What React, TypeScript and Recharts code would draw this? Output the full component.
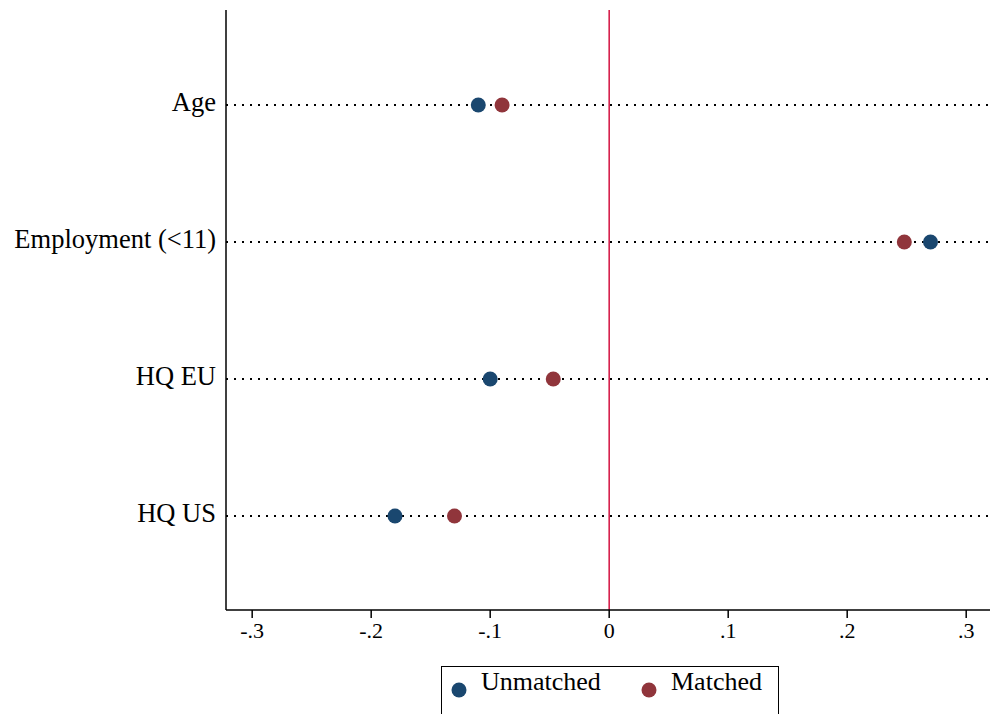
import React from "react"
import { ScatterChart, Scatter, XAxis, YAxis, ReferenceLine, Legend } from "recharts"

const categories = ["Age", "Employment (<11)", "HQ EU", "HQ US"]
const unmatchedValues = [-0.11, 0.27, -0.1, -0.18]
const matchedValues = [-0.09, 0.248, -0.047, -0.13]
const xTicks = [-0.3, -0.2, -0.1, 0, 0.1, 0.2, 0.3]

const BLUE = "#1a476f"
const MAROON = "#90353b"
const FONT = "'Liberation Serif', 'Times New Roman', serif"

// categories go top to bottom, so the first one gets the highest y
const yPos = (i: number) => categories.length - i
const yTicks = categories.map((_, i) => yPos(i))

const unmatched = categories.map((c, i) => ({ name: c, x: unmatchedValues[i], y: yPos(i) }))
const matched = categories.map((c, i) => ({ name: c, x: matchedValues[i], y: yPos(i) }))

const fmtX = (v: number) => {
    if (v === 0) return "0"
    const s = Math.abs(v).toFixed(1).replace(/^0/, "")
    return v < 0 ? "-" + s : s
}

const fmtY = (v: number) => categories[categories.length - v] ?? ""

const dot = (color: string) => (props: any) => (
    <circle cx={props.cx} cy={props.cy} r={7.5} fill={color} />
)

const LegendBox = () => (
    <div
        style={{
            width: 338,
            height: 60,
            boxSizing: "border-box",
            border: "1.5px solid #000",
            background: "#fff",
            fontFamily: FONT,
            fontSize: 26,
            position: "relative",
        }}
    >
        <svg width={20} height={20} style={{ position: "absolute", left: 7, top: 13 }}>
            <circle cx={10} cy={10} r={7.5} fill={BLUE} />
        </svg>
        <span style={{ position: "absolute", left: 39, top: 0, lineHeight: "30px" }}>Unmatched</span>
        <svg width={20} height={20} style={{ position: "absolute", left: 197, top: 13 }}>
            <circle cx={10} cy={10} r={7.5} fill={MAROON} />
        </svg>
        <span style={{ position: "absolute", left: 229, top: 0, lineHeight: "30px" }}>Matched</span>
    </div>
)

export default function App() {
    return (
        <div style={{ position: "absolute", left: 0, top: 0, width: 990, height: 714, overflow: "hidden", background: "#fff" }}>
            <ScatterChart width={990} height={714} margin={{ top: 10, right: 0, left: 0, bottom: 0 }}>
                <XAxis
                    type="number"
                    dataKey="x"
                    domain={[-0.322, 0.32]}
                    ticks={xTicks}
                    tickFormatter={fmtX}
                    allowDataOverflow
                    height={56}
                    tickSize={8}
                    tickMargin={4}
                    stroke="#000"
                    strokeWidth={1.5}
                    tick={{ fill: "#000", fontSize: 22, fontFamily: FONT }}
                />
                <YAxis
                    type="number"
                    dataKey="y"
                    domain={[0.314, 4.693]}
                    ticks={yTicks}
                    tickFormatter={fmtY}
                    allowDataOverflow
                    width={226}
                    tickLine={false}
                    tickSize={0}
                    tickMargin={10}
                    stroke="#000"
                    strokeWidth={1.5}
                    tick={{ fill: "#000", fontSize: 26.5, fontFamily: FONT, dy: -3 }}
                />
                {yTicks.map((t) => (
                    <ReferenceLine key={t} y={t} stroke="#000" strokeWidth={2} strokeDasharray="2 6" />
                ))}
                <ReferenceLine x={0} stroke="#d6204c" strokeWidth={1.6} />
                <Legend
                    verticalAlign="bottom"
                    height={48}
                    content={<LegendBox />}
                    wrapperStyle={{ left: 441, top: 666, width: 338, height: 48 }}
                />
                <Scatter name="Unmatched" data={unmatched} shape={dot(BLUE)} isAnimationActive={false} />
                <Scatter name="Matched" data={matched} shape={dot(MAROON)} isAnimationActive={false} />
            </ScatterChart>
        </div>
    )
}
